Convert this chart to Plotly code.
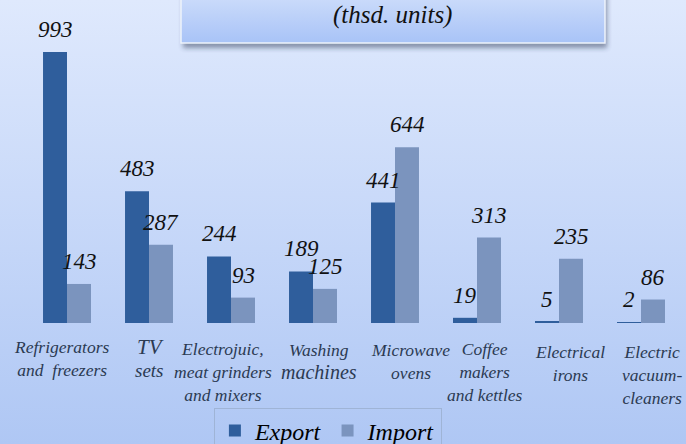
import base64
import plotly.graph_objects as go

# ---- data ----
categories = ["Refrigerators and freezers", "TV sets", "Electrojuic, meat grinders and mixers",
              "Washing machines", "Microwave ovens", "Coffee makers and kettles",
              "Electrical irons", "Electric vacuum-cleaners"]
tick_labels = ["Refrigerators<br>and  freezers",
               "<span style='font-size:21px'>TV</span><br><span style='font-size:19px'>sets</span>",
               "Electrojuic,<br>meat grinders<br>and mixers",
               "Washing<br><span style='font-size:20px'>machines</span>",
               "Microwave<br>ovens",
               "Coffee<br>makers<br>and kettles",
               "Electrical<br>irons",
               "Electric<br>vacuum-<br>cleaners"]
export_vals = [993, 483, 244, 189, 441, 19, 5, 2]
import_vals = [143, 287, 93, 125, 644, 313, 235, 86]
subtitle = "(thsd. units)"

# style: horizontal / vertical nudges of the category labels (px)
label_dx = [-6, 0, -8, 6, 15, 8, 11, 11]
label_dy = [-12, -10, -14, -15, -15, -14, -17, -17]

W, H = 686, 444
SERIF = "Liberation Serif"

# ---- background (gradient + framed title box with shadow) ----
svg = f"""<svg xmlns='http://www.w3.org/2000/svg' width='{W}' height='{H}' viewBox='0 0 {W} {H}' preserveAspectRatio='none'>
<defs>
<linearGradient id='bg' x1='0' y1='0' x2='0' y2='1'>
<stop offset='0' stop-color='#dfe9fd'/><stop offset='1' stop-color='#afc7f4'/></linearGradient>
<linearGradient id='tb' x1='0' y1='0' x2='0' y2='1'>
<stop offset='0' stop-color='#d2e0fb'/><stop offset='1' stop-color='#a8c3f7'/></linearGradient>
<filter id='sh' x='-10%' y='-50%' width='120%' height='200%'><feGaussianBlur stdDeviation='2.5'/></filter>
</defs>
<rect x='0' y='0' width='{W}' height='{H}' fill='url(#bg)'/>
<rect x='183' y='-10' width='424' height='58' fill='#1a2a45' opacity='0.45' filter='url(#sh)'/>
<rect x='181' y='-12' width='424' height='55' fill='url(#tb)' stroke='#eef3fb' stroke-width='1.5'/>
</svg>"""
src = "data:image/svg+xml;base64," + base64.b64encode(svg.encode()).decode()

fig = go.Figure()
fig.add_trace(go.Bar(name="Export", x=categories, y=export_vals,
                     marker=dict(color="#2f5e9c", line=dict(width=0))))
fig.add_trace(go.Bar(name="Import", x=categories, y=import_vals,
                     marker=dict(color="#7b94be", line=dict(width=0))))

annos = []
for series, shift in ((export_vals, -12), (import_vals, 12)):
    for c, v in zip(categories, series):
        annos.append(dict(x=c, y=v, xref="x", yref="y", text=str(v), showarrow=False,
                          xshift=shift, yshift=8, yanchor="bottom",
                          font=dict(family=SERIF, size=23, style="italic", color="#111111")))
for c, t, dx, dy in zip(categories, tick_labels, label_dx, label_dy):
    annos.append(dict(x=c, y=0, xref="x", yref="y", text=t, showarrow=False,
                      xanchor="center", yanchor="top", align="center", xshift=dx, yshift=dy,
                      font=dict(family=SERIF, size=17.5, style="italic", color="#2b3a52")))
annos.append(dict(x=392 / W, y=1 - 15 / H, xref="paper", yref="paper", text=subtitle,
                  showarrow=False, xanchor="center", yanchor="middle",
                  font=dict(family=SERIF, size=25, style="italic", color="#111111")))

fig.update_layout(
    width=W, height=H,
    margin=dict(l=0, r=0, t=0, b=0, autoexpand=False),
    paper_bgcolor="#c8d9fa", plot_bgcolor="rgba(0,0,0,0)",
    font=dict(family=SERIF, style="italic"),
    images=[dict(source=src, xref="paper", yref="paper", x=0, y=1, sizex=1, sizey=1,
                 xanchor="left", yanchor="top", sizing="stretch", layer="below")],
    barmode="group", bargap=0.415, bargroupgap=0,
    xaxis=dict(domain=[26 / W, 682 / W], range=[-0.5, len(categories) - 0.5],
               type="category", showticklabels=False, automargin=False,
               showgrid=False, zeroline=False, showline=False, ticks=""),
    yaxis=dict(domain=[(H - 323) / H, (H - 20) / H], range=[0, 1110], visible=False,
               showgrid=False, zeroline=False, automargin=False),
    showlegend=True,
    legend=dict(orientation="h", x=0.478, xanchor="center", xref="container",
                y=(H - 431) / H, yanchor="middle", yref="container",
                font=dict(family=SERIF, size=24, style="italic", color="#000000"),
                bgcolor="rgba(0,0,0,0)", bordercolor="#9fb4d6", borderwidth=1,
                itemwidth=30, tracegroupgap=0),
    annotations=annos,
)

fig.write_html("out.html", config={"displayModeBar": False},
               post_script="document.body.style.margin='0';")
